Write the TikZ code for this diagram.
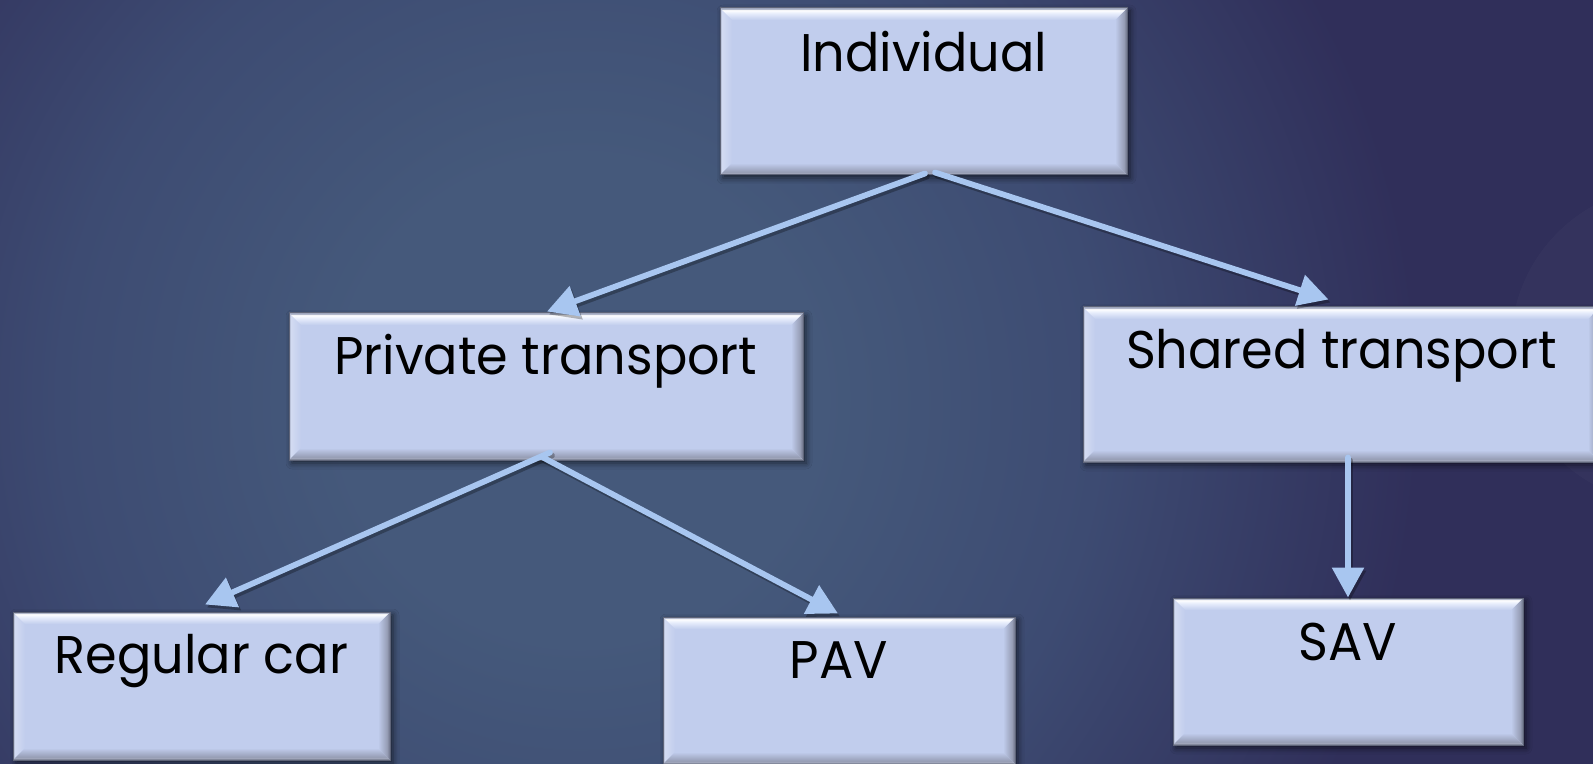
\documentclass[tikz,border=0pt]{standalone}
\usepackage{fontspec}
\setmainfont{Poppins}[FakeStretch=0.96]
\usetikzlibrary{arrows.meta,calc,shadows.blur}

% palette
\definecolor{bgA}{HTML}{45597B}
\definecolor{bgB}{HTML}{3D4B72}
\definecolor{bgC}{HTML}{302F5A}
\definecolor{boxfill}{HTML}{C1CDED}
\definecolor{bevhi}{HTML}{E6ECFB}
\definecolor{bevline}{HTML}{9EA6BD}
\definecolor{bevleftlt}{HTML}{D3DBF2}
\definecolor{bevmid}{HTML}{979EB6}
\definecolor{bevdark}{HTML}{6C7287}
\definecolor{bevbotlt}{HTML}{A3A9BC}
\definecolor{bevedge}{HTML}{5E6478}
\definecolor{arrowc}{HTML}{A8C6F0}

% background glow
\pgfdeclareradialshading{bgglow}{\pgfpoint{0bp}{0bp}}{color(0bp)=(bgA); color(6bp)=(bgA); color(13bp)=(bgB); color(21bp)=(bgC); color(50bp)=(bgC)}

% bevel strips
\pgfdeclareverticalshading{bevtopshade}{100bp}{color(0bp)=(boxfill); color(25bp)=(boxfill); color(52bp)=(bevhi); color(66bp)=(white); color(72bp)=(bevline); color(100bp)=(bevline)}
\pgfdeclareverticalshading{bevbotshade}{100bp}{color(0bp)=(bevedge); color(27bp)=(bevedge); color(31bp)=(bevbotlt); color(38bp)=(bevmid); color(75bp)=(boxfill); color(100bp)=(boxfill)}
\pgfdeclarehorizontalshading{bevleftshade}{100bp}{color(0bp)=(bevline); color(26bp)=(bevline); color(32bp)=(bevleftlt); color(75bp)=(boxfill); color(100bp)=(boxfill)}
\pgfdeclarehorizontalshading{bevrightshade}{100bp}{color(0bp)=(boxfill); color(25bp)=(boxfill); color(62bp)=(bevmid); color(75bp)=(bevdark); color(100bp)=(bevdark)}

\newcommand\bevw{6pt}

\tikzset{
  bevelbox/.style={
    inner sep=0pt, fill=boxfill, draw=bevedge, line width=0.5pt,
    font=\fontsize{26.5}{32}\selectfont, text=black,
    blur shadow={shadow xshift=1.5pt, shadow yshift=-1.5pt,
                 shadow blur radius=3pt, shadow opacity=60},
    path picture={
      \coordinate (pw)  at (path picture bounding box.north west);
      \coordinate (pne) at (path picture bounding box.north east);
      \coordinate (pe)  at (path picture bounding box.south east);
      \coordinate (psw) at (path picture bounding box.south west);
      \shade[shading=bevleftshade] (pw) -- ($(pw)+(\bevw,-\bevw)$)
        -- ($(psw)+(\bevw,\bevw)$) -- (psw) -- cycle;
      \shade[shading=bevrightshade] (pne) -- (pe)
        -- ($(pe)+(-\bevw,\bevw)$) -- ($(pne)+(-\bevw,-\bevw)$) -- cycle;
      \shade[shading=bevtopshade] (pw) -- (pne)
        -- ($(pne)+(-\bevw,-\bevw)$) -- ($(pw)+(\bevw,-\bevw)$) -- cycle;
      \shade[shading=bevbotshade] (psw) -- (pe)
        -- ($(pe)+(-\bevw,\bevw)$) -- ($(psw)+(\bevw,\bevw)$) -- cycle;
    }
  },
  conn/.style={draw=arrowc, line width=2.9pt, line cap=round,
    -{Triangle[length=15pt,width=15.5pt]}},
  connshadow/.style={draw=black, opacity=0.28, line width=2.9pt, line cap=round,
    -{Triangle[length=15pt,width=15.5pt]},
    transform canvas={xshift=1pt,yshift=-1.5pt}}
}

\begin{document}
\begin{tikzpicture}[x=0.5pt,y=-0.5pt]
\useasboundingbox (0,0) rectangle (1593,764);
\begin{scope}
\clip (0,0) rectangle (1593,764);

% backdrop
\fill[bgC] (0,0) rectangle (1593,764);
\shade[shading=bgglow] (580,400) circle (500pt);
\fill[white, opacity=0.025] (1670,345) circle (79.5pt);

% boxes
\node[bevelbox, minimum width=203.5pt, text height=32pt, text depth=51.5pt]
  (ind) at (923.5,91.5) {Individual};
\node[bevelbox, minimum width=257pt, text height=30.5pt, text depth=43pt]
  (priv) at (546,386.5) {Private transport};
\node[bevelbox, minimum width=258.5pt, text height=30.5pt, text depth=47pt]
  (shared) at (1341.5,384.5) {Shared transport};
\node[bevelbox, minimum width=188.5pt, text height=30.5pt, text depth=43.5pt]
  (reg) at (201.5,686) {Regular car};
\node[bevelbox, minimum width=176pt, text height=30.5pt, text depth=43pt]
  (pav) at (839,690.5) {PAV};
\node[bevelbox, minimum width=175pt, text height=31pt, text depth=42.5pt]
  (sav) at (1348,671.5) {SAV};

% connectors
\foreach \sty in {connshadow,conn}{
  \draw[\sty] ([xshift=0.75pt,yshift=1pt]ind.south) -- ([xshift=0.5pt,yshift=0.5pt]priv.north);
  \draw[\sty] ([xshift=5.75pt,yshift=1.5pt]ind.south) -- ([xshift=-6.5pt,yshift=3.5pt]shared.north);
  \draw[\sty] ([xshift=2pt,yshift=4pt]priv.south) -- ([xshift=1.75pt,yshift=3.5pt]reg.north);
  \draw[\sty] ([xshift=-1.5pt,yshift=1.5pt]priv.south) -- ([xshift=-0.5pt,yshift=1.5pt]pav.north);
  \draw[\sty] ([xshift=3.25pt,yshift=2.5pt]shared.south) -- (sav.north);
}
\end{scope}
\end{tikzpicture}
\end{document}
